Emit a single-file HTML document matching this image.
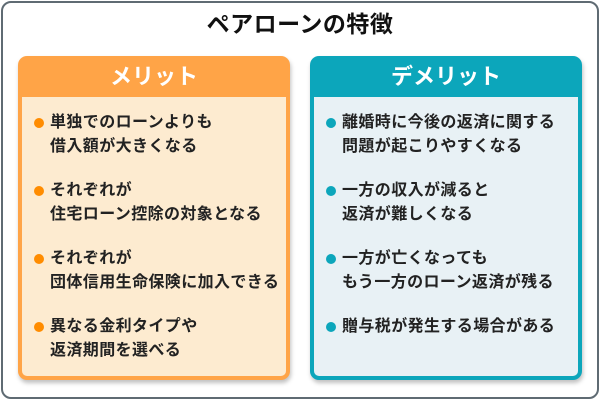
<!DOCTYPE html>
<html><head><meta charset="utf-8"><style>
*{margin:0;padding:0;box-sizing:border-box}
body{width:600px;height:400px;background:#fff;font-family:"Liberation Sans","Noto Sans CJK JP",sans-serif;position:relative;overflow:hidden}
.outer{position:absolute;left:1px;top:1px;width:598px;height:398px;border:2px solid #5f6b73;border-radius:10px}
.title{position:absolute;left:0;width:600px;top:8px;text-align:center;font-size:23px;font-weight:bold;color:#111;line-height:32px;letter-spacing:0.5px}
.panel{position:absolute;top:56px;width:272px;height:324px;border-radius:9px;box-shadow:1px 3px 4px rgba(0,0,0,.25)}
.panel .hd{height:41px;text-align:center;color:#fff;font-size:22px;font-weight:bold;line-height:41px}
.panel .bd{position:absolute;left:4px;right:4px;top:41px;bottom:4px;border-radius:0 0 5px 5px}
.item{position:absolute;left:28px;font-size:16px;font-weight:bold;color:#222;line-height:24px;white-space:nowrap;letter-spacing:0.4px}
.item::before{content:"";position:absolute;left:-16px;top:7px;width:10px;height:10px;border-radius:50%}
.l{left:18px;background:#ffa447}.l .bd{background:#fdebd0}.l .item::before{background:#ff8c00}
.r{left:310px;background:#0ca6bb}.r .bd{background:#e8f1f5}.r .item::before{background:#0ca6bb}
</style></head><body>
<div class="outer"></div>
<div class="title">ペアローンの特徴</div>
<div class="panel l"><div class="hd">メリット</div><div class="bd">
<div class="item" style="top:14px">単独でのローンよりも<br>借入額が大きくなる</div>
<div class="item" style="top:82px">それぞれが<br>住宅ローン控除の対象となる</div>
<div class="item" style="top:150px">それぞれが<br>団体信用生命保険に加入できる</div>
<div class="item" style="top:218px">異なる金利タイプや<br>返済期間を選べる</div>
</div></div>
<div class="panel r"><div class="hd">デメリット</div><div class="bd">
<div class="item" style="top:14px">離婚時に今後の返済に関する<br>問題が起こりやすくなる</div>
<div class="item" style="top:82px">一方の収入が減ると<br>返済が難しくなる</div>
<div class="item" style="top:150px">一方が亡くなっても<br>もう一方のローン返済が残る</div>
<div class="item" style="top:218px">贈与税が発生する場合がある</div>
</div></div>
</body></html>
